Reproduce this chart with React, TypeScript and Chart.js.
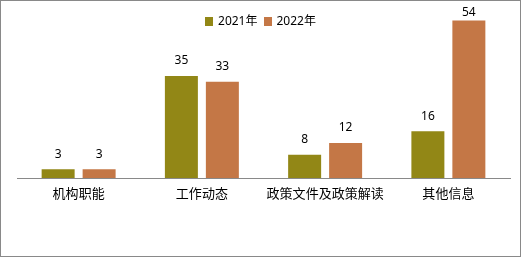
import React, { useEffect, useRef } from "react";
import { Chart, registerables } from "chart.js";

Chart.register(...registerables);

const categories = ["机构职能", "工作动态", "政策文件及政策解读", "其他信息"];
const seriesNames = ["2021年", "2022年"];
const values2021 = [3, 35, 8, 16];
const values2022 = [3, 33, 12, 54];
const colors = ["#928716", "#C47746"];

const W = 521;
const H = 257;

const dataLabelPlugin = {
  id: "dataLabels",
  afterDatasetsDraw(chart: any) {
    const ctx = chart.ctx;
    ctx.save();
    ctx.font = '12px "Noto Sans", sans-serif';
    ctx.fillStyle = "#000";
    ctx.textAlign = "center";
    ctx.textBaseline = "middle";
    chart.data.datasets.forEach((ds: any, i: number) => {
      const meta = chart.getDatasetMeta(i);
      meta.data.forEach((bar: any, j: number) => {
        const y = Math.max(bar.y - 15, 13);
        ctx.fillText(String(ds.data[j]), bar.x, y);
      });
    });
    ctx.restore();
  },
};

export default function App() {
  const ref = useRef<HTMLCanvasElement | null>(null);

  useEffect(() => {
    document.body.style.margin = "0";
    if (!ref.current) return;
    const chart = new Chart(ref.current, {
      type: "bar",
      data: {
        labels: categories,
        datasets: [
          { label: seriesNames[0], data: values2021, backgroundColor: colors[0], borderWidth: 0 },
          { label: seriesNames[1], data: values2022, backgroundColor: colors[1], borderWidth: 0 },
        ],
      },
      options: {
        animation: false,
        responsive: false,
        devicePixelRatio: 1,
        categoryPercentage: 0.665,
        barPercentage: 0.805,
        layout: { padding: { left: 17, right: 11, top: 3, bottom: 49.4 } },
        plugins: {
          legend: { display: false },
          tooltip: { enabled: false },
        },
        scales: {
          x: {
            grid: { display: false, drawTicks: false, tickLength: 0 },
            border: { display: true, color: "#898989", width: 1 },
            ticks: {
              padding: 7,
              color: "#000",
              font: { family: '"Noto Sans CJK SC", sans-serif', size: 13 },
              maxRotation: 0,
              autoSkip: false,
            },
          },
          y: {
            display: false,
            min: 0,
            max: 60,
          },
        },
      },
      plugins: [dataLabelPlugin],
    });
    return () => chart.destroy();
  }, []);

  const legendItem = (name: string, color: string) => (
    <div key={name} style={{ display: "flex", alignItems: "center", marginRight: 6 }}>
      <span style={{ display: "inline-block", width: 8, height: 9, background: color, marginRight: 5 }} />
      <span style={{ fontSize: 12, lineHeight: "14px", color: "#000" }}>{name}</span>
    </div>
  );

  return (
    <div style={{ position: "fixed", left: 0, top: 0, width: W, height: H, background: "#fff" }}>
      <canvas ref={ref} width={W} height={H} style={{ position: "absolute", left: 0, top: 0, width: W, height: H }} />
      <div
        style={{
          position: "absolute",
          left: 0,
          top: 14,
          width: W,
          display: "flex",
          justifyContent: "center",
          fontFamily: '"Noto Sans", "Noto Sans CJK SC", sans-serif',
          paddingLeft: 6,
          boxSizing: "border-box",
        }}
      >
        {seriesNames.map((n, i) => legendItem(n, colors[i]))}
      </div>
      <div
        style={{
          position: "absolute",
          left: 0,
          top: 0,
          width: W,
          height: H,
          border: "1px solid #898989",
          boxSizing: "border-box",
          pointerEvents: "none",
        }}
      />
    </div>
  );
}
